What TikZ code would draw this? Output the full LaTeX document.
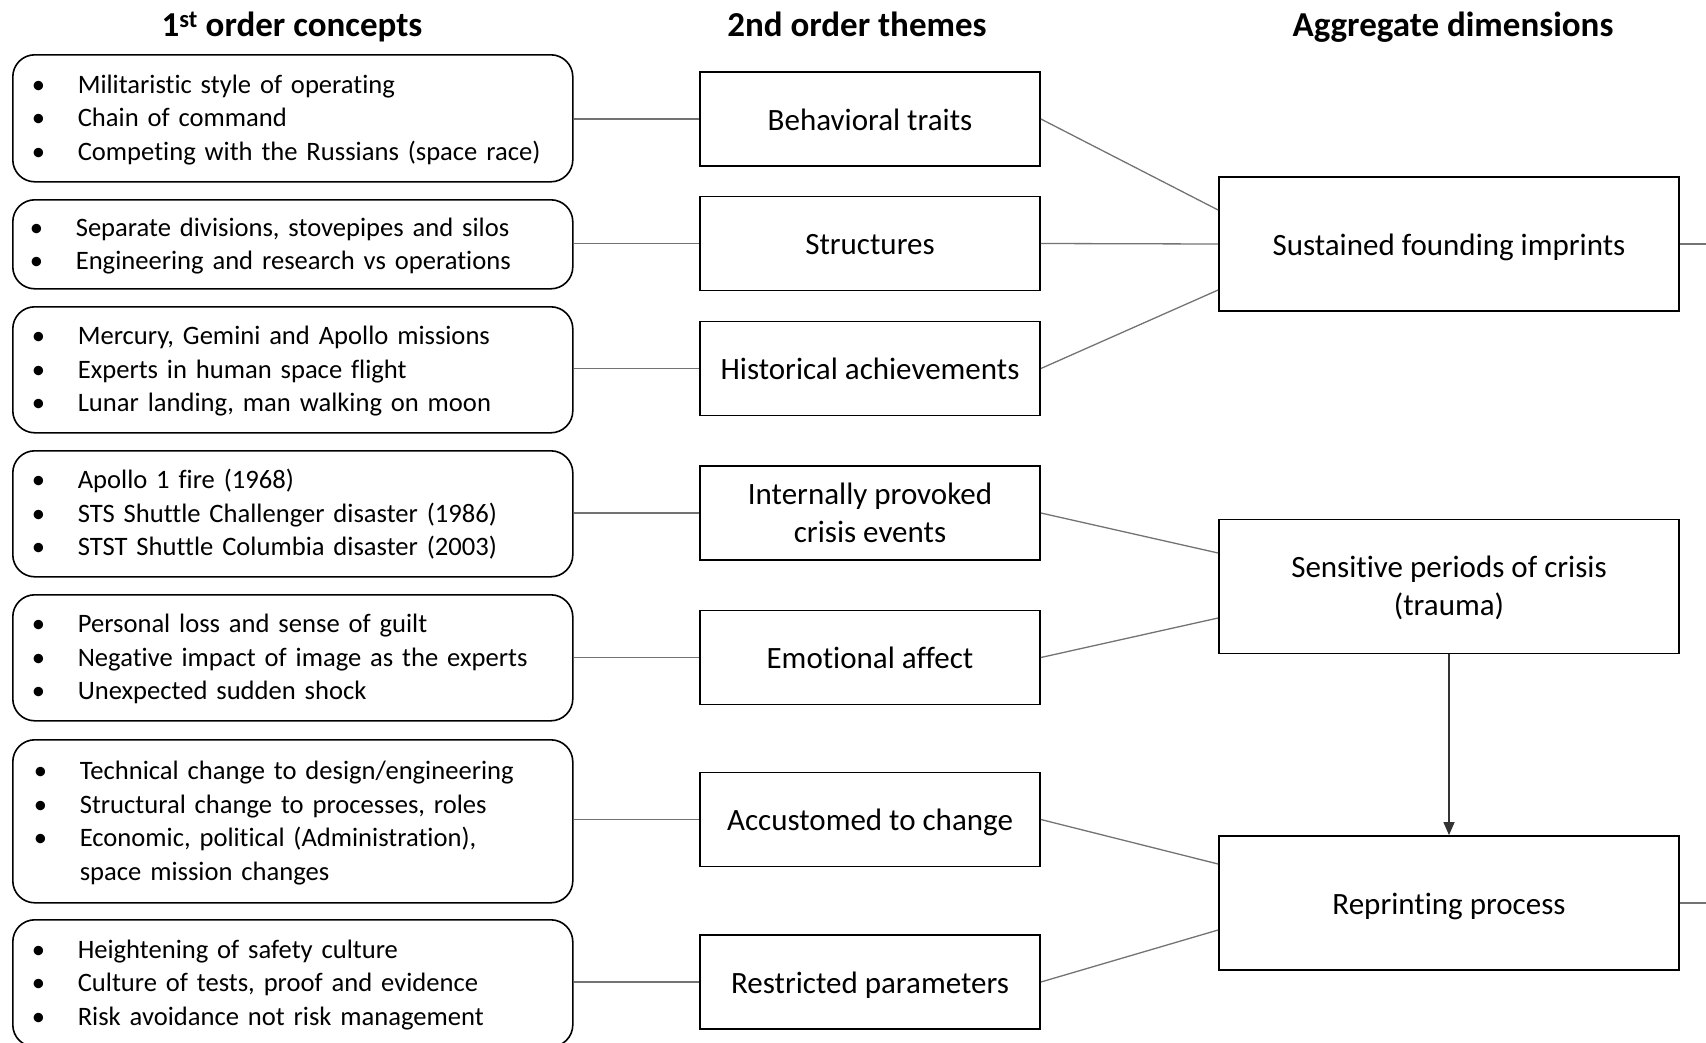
\documentclass[tikz,border=0pt]{standalone}
\usepackage{fontspec}
\setmainfont{Carlito}[Ligatures=NoCommon]
\usetikzlibrary{arrows.meta}
% bullet item with a fixed hanging indent
\newcommand\itm{\makebox[46pt][l]{•}}
\newcommand\cont{\hspace*{46pt}}
\begin{document}
\begin{tikzpicture}[x=1pt,y=-1pt,
  concept/.style={draw=black, line width=1.6pt, rounded corners=22pt,
    minimum width=560pt, text width=522pt, inner xsep=19pt, inner ysep=0pt,
    align=left, font=\fontsize{26.6}{33.5}\selectfont, anchor=north west,
    text height=27.1pt},
  two/.style={text depth=43.5pt},
  three/.style={text depth=77pt},
  four/.style={text depth=110.5pt},
  theme/.style={draw=black, line width=1.8pt, minimum width=340pt,
    minimum height=94pt, align=center, inner sep=0pt,
    font=\fontsize{31}{38}\selectfont, text height=30pt, text depth=8pt},
  double/.style={text height=66pt},
  dimension/.style={theme, minimum width=460pt, minimum height=134pt},
  heading/.style={font=\fontsize{35}{40}\selectfont\bfseries,
    text height=25pt, text depth=8pt},
  link/.style={draw=black!55, line width=1.3pt},
  flow/.style={draw=black!80, line width=1.3pt, -{Triangle[width=11pt,length=13pt]}},
]
\useasboundingbox (0,0) rectangle (1706,1042);

% column headings
\node[heading] (h1) at (292,27.8) {1\textsuperscript{st} order concepts};
\node[heading] (h2) at (857,27.8) {2nd order themes};
\node[heading] (h3) at (1453,27.8) {Aggregate dimensions};

% first order concepts
\node[concept, three, minimum height=127pt] (L1) at (12,54)
  {\itm Militaristic style of operating\\
   \itm Chain of command\\
   \itm Competing with the Russians (space race)};
\node[concept, two, minimum height=89pt] (L2) at (12,199)
  {\hspace*{-2pt}\itm Separate divisions, stovepipes and silos\\
   \hspace*{-2pt}\itm Engineering and research vs operations};
\node[concept, three, minimum height=126pt] (L3) at (12,306)
  {\itm Mercury, Gemini and Apollo missions\\
   \itm Experts in human space flight\\
   \itm Lunar landing, man walking on moon};
\node[concept, three, minimum height=126pt] (L4) at (12,450)
  {\itm Apollo 1 fire (1968)\\
   \itm STS Shuttle Challenger disaster (1986)\\
   \itm STST Shuttle Columbia disaster (2003)};
\node[concept, three, minimum height=126pt] (L5) at (12,594)
  {\itm Personal loss and sense of guilt\\
   \itm Negative impact of image as the experts\\
   \itm Unexpected sudden shock};
\node[concept, four, minimum height=163pt] (L6) at (12,739)
  {\hspace*{2pt}\itm Technical change to design/engineering\\
   \hspace*{2pt}\itm Structural change to processes, roles\\
   \hspace*{2pt}\itm Economic, political (Administration),\\
   \hspace*{2pt}\cont space mission changes};
\node[concept, three, minimum height=127pt] (L7) at (12,919)
  {\itm Heightening of safety culture\\
   \itm Culture of tests, proof and evidence\\
   \itm Risk avoidance not risk management};

% second order themes
\node[theme] (M1) at (870,119)   {Behavioral traits};
\node[theme] (M2) at (870,243.5) {Structures};
\node[theme] (M3) at (870,368.5) {Historical achievements};
\node[theme, double] (M4) at (870,513) {Internally provoked\\crisis events};
\node[theme] (M5) at (870,657.5) {Emotional affect};
\node[theme] (M6) at (870,819.5) {Accustomed to change};
\node[theme] (M7) at (870,982)   {Restricted parameters};

% aggregate dimensions
\node[dimension] (R1) at (1449,244)   {Sustained founding imprints};
\node[dimension, double] (R2) at (1449,586.5) {Sensitive periods of crisis\\(trauma)};
\node[dimension] (R3) at (1449,903)   {Reprinting process};

% concepts to themes
\foreach \i in {1,...,7}
  \draw[link] (L\i.east |- M\i.west) -- (M\i.west);

% themes to dimensions
\draw[link] (M1.east) -- ([yshift=34pt]R1.west);
\draw[link] (M2.east) -- (R1.west);
\draw[link] (M3.east) -- ([yshift=-46pt]R1.west);
\draw[link] (M4.east) -- ([yshift=33.5pt]R2.west);
\draw[link] (M5.east) -- ([yshift=-31.5pt]R2.west);
\draw[link] (M6.east) -- ([yshift=39pt]R3.west);
\draw[link] (M7.east) -- ([yshift=-27pt]R3.west);

% outgoing lines at the right edge
\coordinate (o1) at (1706,244);
\coordinate (o3) at (1706,903);
\draw[link] (R1.east) -- (o1);
\draw[link] (R3.east) -- (o3);

% crisis leads to reprinting
\draw[flow] (R2.south) -- (R3.north);
\end{tikzpicture}
\end{document}
